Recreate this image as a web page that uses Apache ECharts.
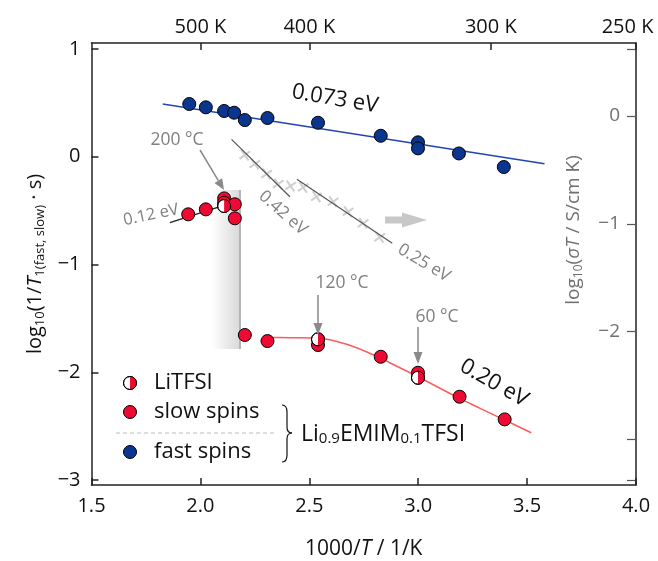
<!DOCTYPE html>
<html>
<head>
<meta charset="utf-8">
<script src="https://cdn.jsdelivr.net/npm/echarts@6/dist/echarts.min.js"></script>
<style>
  html, body { margin: 0; padding: 0; background: #fff; }
  #main { width: 658px; height: 561px; }
</style>
</head>
<body>
<div id="main"></div>
<script>
var FONT = '"Open Sans", "Noto Sans", sans-serif'
var RED = '#ee0a33'
var BLUE = '#0b3690'

// top axis temperatures (K)
var topTempK = [500, 400, 300, 250]

// fast spins (blue)
var fastX = [1.949, 2.025, 2.109, 2.155, 2.204, 2.308, 2.540, 2.828, 2.999, 2.999, 3.187, 3.393]
var fastY = [0.490, 0.459, 0.425, 0.409, 0.341, 0.360, 0.316, 0.195, 0.134, 0.078, 0.031, -0.095]
var fastFitX = [1.827, 3.58]
var fastFitY = [0.49, -0.065]

// slow spins (red)
var slowX = [1.944, 2.025, 2.109, 2.109, 2.158, 2.158, 2.204, 2.308, 2.540, 2.828, 2.999, 3.190, 3.397]
var slowY = [-0.534, -0.488, -0.386, -0.426, -0.441, -0.571, -1.654, -1.710, -1.747, -1.856, -2.004, -2.227, -2.437]
var highFitX = [1.860, 2.097]
var highFitY = [-0.612, -0.457]
var slowCurveX = [2.30, 2.411, 2.548, 2.655, 2.762, 2.869, 2.999, 3.190, 3.397, 3.519]
var slowCurveY = [-1.677, -1.679, -1.685, -1.731, -1.809, -1.911, -2.041, -2.242, -2.443, -2.561]

// LiTFSI (half filled)
var litfsiX = [2.109, 2.540, 2.999]
var litfsiY = [-0.457, -1.694, -2.051]

// conductivity log10(sigma T) (right axis)
var condX = [2.204, 2.250, 2.304, 2.357, 2.414, 2.472, 2.533, 2.609, 2.678, 2.747, 2.823]
var condY = [-0.362, -0.445, -0.538, -0.631, -0.649, -0.662, -0.749, -0.795, -0.888, -0.996, -1.126]
var fit042X = [2.143, 2.411]
var fit042Y = [-0.216, -0.749]
var fit025X = [2.443, 2.881]
var fit025Y = [-0.587, -1.181]

function pairs(xs, ys) { return xs.map(function (x, i) { return [x, ys[i]] }) }
function minus(v) { return String(v).replace('-', '\u2212') }

function arrow(x1, y1, x2, y2, color, lw, hl, hw) {
  var a = Math.atan2(y2 - y1, x2 - x1)
  var bx = x2 - hl * Math.cos(a), by = y2 - hl * Math.sin(a)
  var nx = -Math.sin(a) * hw / 2, ny = Math.cos(a) * hw / 2
  return [
    { type: 'line', z: 50, shape: { x1: x1, y1: y1, x2: bx, y2: by }, style: { stroke: color, lineWidth: lw } },
    { type: 'polygon', z: 50, shape: { points: [[x2, y2], [bx + nx, by + ny], [bx - nx, by - ny]] }, style: { fill: color } }
  ]
}
function label(text, x, y, size, color, rot) {
  return { type: 'text', x: x, y: y, rotation: rot || 0, z: 60,
    style: { text: text, fontSize: size, fontFamily: FONT, fill: color, align: 'center', verticalAlign: 'middle' } }
}
function halfDot(cx, cy, r) {
  return [
    { type: 'circle', z: 60, shape: { cx: cx, cy: cy, r: r }, style: { fill: '#fff', stroke: '#000', lineWidth: 1 } },
    { type: 'sector', z: 60, shape: { cx: cx, cy: cy, r0: 0, r: r, startAngle: -Math.PI / 2, endAngle: Math.PI / 2, clockwise: true }, style: { fill: RED } },
    { type: 'circle', z: 60, shape: { cx: cx, cy: cy, r: r }, style: { fill: 'none', stroke: '#000', lineWidth: 1 } }
  ]
}
function curve(x1, y1, cx, cy, x2, y2) {
  return { type: 'bezierCurve', z: 60, shape: { x1: x1, y1: y1, cpx1: cx, cpy1: cy, x2: x2, y2: y2 },
    style: { fill: 'none', stroke: '#111', lineWidth: 1.2 } }
}
function seg(x1, y1, x2, y2) {
  return { type: 'line', z: 60, shape: { x1: x1, y1: y1, x2: x2, y2: y2 }, style: { stroke: '#111', lineWidth: 1.2 } }
}

var chart = echarts.init(document.getElementById('main'))

var graphics = [
  // shaded transition band
  { type: 'rect', z: 0, shape: { x: 212, y: 190, width: 28, height: 159 },
    style: { fill: { type: 'linear', x: 0, y: 0, x2: 1, y2: 0,
      colorStops: [{ offset: 0, color: 'rgba(215,215,215,0)' }, { offset: 1, color: '#d9d9d9' }] } } },
  { type: 'line', z: 0, shape: { x1: 240, y1: 190, x2: 240, y2: 349 }, style: { stroke: '#b5b5b5', lineWidth: 2 } },
  label('0.073 eV', 335, 99, 22, '#111', -0.17),
  label('200 \u00b0C', 177, 140, 17.5, '#808080'),
  label('0.12 eV', 151, 215, 16.5, '#808080', 0.2),
  label('0.42 eV', 283, 213, 17, '#808080', -0.72),
  label('0.25 eV', 424, 263, 17, '#808080', -0.54),
  label('120 \u00b0C', 342, 283, 17.5, '#808080'),
  label('60 \u00b0C', 437, 317, 17.5, '#808080'),
  label('0.20 eV', 494, 383, 22, '#111', -0.52),
  { type: 'polygon', z: 50, shape: { points: [[385, 216.5], [402, 216.5], [402, 212.5], [427, 220], [402, 227.5], [402, 223.5], [385, 223.5]] },
    style: { fill: '#c8c8c8' } },
  // right axis title
  { type: 'text', x: 574, y: 230, rotation: Math.PI / 2, z: 60,
    style: { text: 'log{s|10}({i|\u03c3T} / S/cm K)', fontSize: 19, fontFamily: FONT, fill: '#707070',
      align: 'center', verticalAlign: 'middle',
      rich: { s: { fontSize: 12, fill: '#707070', fontFamily: FONT, padding: [9, 0, 0, 0] },
              i: { fontSize: 19, fill: '#707070', fontFamily: FONT, fontStyle: 'italic' } } } },
  // legend
  { type: 'circle', z: 60, shape: { cx: 130, cy: 412, r: 6.5 }, style: { fill: RED, stroke: '#000', lineWidth: 1 } },
  { type: 'circle', z: 60, shape: { cx: 130, cy: 452, r: 6.5 }, style: { fill: BLUE, stroke: '#000', lineWidth: 1 } },
  { type: 'text', x: 154, y: 383, z: 60, style: { text: 'LiTFSI', fontSize: 22, fontFamily: FONT, fill: '#111', verticalAlign: 'middle' } },
  { type: 'text', x: 154, y: 412, z: 60, style: { text: 'slow spins', fontSize: 22, fontFamily: FONT, fill: '#111', verticalAlign: 'middle' } },
  { type: 'text', x: 154, y: 452, z: 60, style: { text: 'fast spins', fontSize: 22, fontFamily: FONT, fill: '#111', verticalAlign: 'middle' } },
  { type: 'line', z: 60, shape: { x1: 116, y1: 433, x2: 275, y2: 433 }, style: { stroke: '#bdbdbd', lineWidth: 1, lineDash: [4, 3] } },
  curve(282, 405, 287, 405, 287, 412),
  seg(287, 412, 287, 427),
  curve(287, 427, 287, 433, 292, 433),
  curve(292, 433, 287, 433, 287, 439),
  seg(287, 439, 287, 455),
  curve(287, 455, 287, 462, 282, 462),
  { type: 'text', x: 301, y: 434, z: 60,
    style: { text: 'Li{s|0.9}EMIM{s|0.1}TFSI', fontSize: 23, fontFamily: FONT, fill: '#111', verticalAlign: 'middle',
      rich: { s: { fontSize: 15, fill: '#111', fontFamily: FONT, padding: [10, 0, 0, 0] } } } }
].concat(
  arrow(200, 150, 224, 190, '#8a8a8a', 1.5, 11, 9),
  arrow(318, 295, 318, 335, '#8a8a8a', 1.5, 12, 9),
  arrow(418, 327, 418, 364, '#8a8a8a', 1.5, 12, 9),
  halfDot(130, 383, 6.5)
)

var crossPath = 'path://M4.2,0 L5.8,0 L5.8,4.2 L10,4.2 L10,5.8 L5.8,5.8 L5.8,10 L4.2,10 L4.2,5.8 L0,5.8 L0,4.2 L4.2,4.2 Z'

chart.setOption({
  animation: false,
  textStyle: { fontFamily: FONT },
  grid: { left: 91.5, right: 22, top: 43, bottom: 76, show: false, outerBoundsMode: 'none', containLabel: false },
  xAxis: [
    {
      type: 'value', position: 'bottom', min: 1.5, max: 4.0, interval: 0.5,
      splitLine: { show: false },
      axisLine: { onZero: false, lineStyle: { color: '#222', width: 1.5 } },
      axisTick: { inside: true, length: 7, lineStyle: { color: '#222', width: 1.5 } },
      axisLabel: { fontSize: 20, color: '#111', margin: 11, formatter: function (v) { return v.toFixed(1) } },
      name: '1000/{i|T} / 1/K', nameLocation: 'middle', nameGap: 54,
      nameTextStyle: { fontSize: 21, color: '#111', rich: { i: { fontSize: 21, fontStyle: 'italic', color: '#111' } } }
    },
    {
      type: 'value', position: 'top', min: 1.5, max: 4.0,
      splitLine: { show: false },
      axisLine: { onZero: false, lineStyle: { color: '#222', width: 1.5 } },
      axisTick: { inside: true, length: 7, lineStyle: { color: '#222', width: 1.5 },
        customValues: topTempK.map(function (t) { return 1000 / t }) },
      axisLabel: { fontSize: 20, color: '#111', margin: 6,
        customValues: topTempK.map(function (t) { return 1000 / t }),
        formatter: function (v) {
          var k = Math.round(1000 / v)
          return k === 250 ? '{m|' + k + ' K}' : k + ' K'
        },
        rich: { m: { fontSize: 20, color: '#111', padding: [0, 17, 0, 0] } } }
    }
  ],
  yAxis: [
    {
      type: 'value', position: 'left', min: -3.046, max: 1.056,
      splitLine: { show: false },
      axisLine: { onZero: false, lineStyle: { color: '#222', width: 1.5 } },
      axisTick: { inside: true, length: 7, lineStyle: { color: '#222', width: 1.5 }, customValues: [-3, -2, -1, 0, 1] },
      axisLabel: { fontSize: 20, color: '#111', margin: 11, customValues: [-3, -2, -1, 0, 1], formatter: minus },
      name: 'log{s|10}(1/{i|T}{s|1(fast, slow)} \u00b7 s)', nameLocation: 'middle', nameGap: 45, nameRotate: 90,
      nameTextStyle: { fontSize: 20, color: '#111',
        rich: { s: { fontSize: 13, color: '#111', padding: [10, 0, 0, 0] }, i: { fontSize: 20, fontStyle: 'italic', color: '#111' } } }
    },
    {
      type: 'value', position: 'right', min: -3.424, max: 0.678,
      splitLine: { show: false },
      axisLine: { onZero: false, lineStyle: { color: '#222', width: 1.5 } },
      axisTick: { inside: true, length: 9, lineStyle: { color: '#555', width: 1.2 }, customValues: [0.622, 0, -1, -2, -3, -3.378] },
      axisLabel: { inside: true, fontSize: 19, color: '#707070', margin: 16, customValues: [0, -1, -2], formatter: minus }
    }
  ],
  graphic: graphics,
  series: [
    { type: 'line', data: pairs(fastFitX, fastFitY), symbol: 'none', z: 2, lineStyle: { color: '#2046b0', width: 1.5 } },
    { type: 'line', data: pairs(highFitX, highFitY), symbol: 'none', z: 2, lineStyle: { color: '#222', width: 1.3 } },
    { type: 'line', data: pairs(slowCurveX, slowCurveY), symbol: 'none', smooth: 0.3, z: 2, lineStyle: { color: '#ff5b5b', width: 1.5 } },
    { type: 'scatter', yAxisIndex: 1, data: pairs(condX, condY), symbol: crossPath, symbolSize: 13, symbolRotate: 35, z: 2,
      itemStyle: { color: '#c4c4c4' } },
    { type: 'line', yAxisIndex: 1, data: pairs(fit042X, fit042Y), symbol: 'none', z: 3, lineStyle: { color: '#555', width: 1.2 } },
    { type: 'line', yAxisIndex: 1, data: pairs(fit025X, fit025Y), symbol: 'none', z: 3, lineStyle: { color: '#555', width: 1.2 } },
    { type: 'scatter', data: pairs(fastX, fastY), symbolSize: 13, z: 4, itemStyle: { color: BLUE, borderColor: '#000', borderWidth: 1, opacity: 1 } },
    { type: 'scatter', data: pairs(slowX, slowY), symbolSize: 13, z: 4, itemStyle: { color: RED, borderColor: '#000', borderWidth: 1, opacity: 1 } },
    {
      type: 'custom', z: 5, data: pairs(litfsiX, litfsiY),
      renderItem: function (params, api) {
        var p = api.coord([api.value(0), api.value(1)])
        return { type: 'group', children: halfDot(p[0], p[1], 6.5) }
      }
    }
  ]
})
</script>
</body>
</html>
